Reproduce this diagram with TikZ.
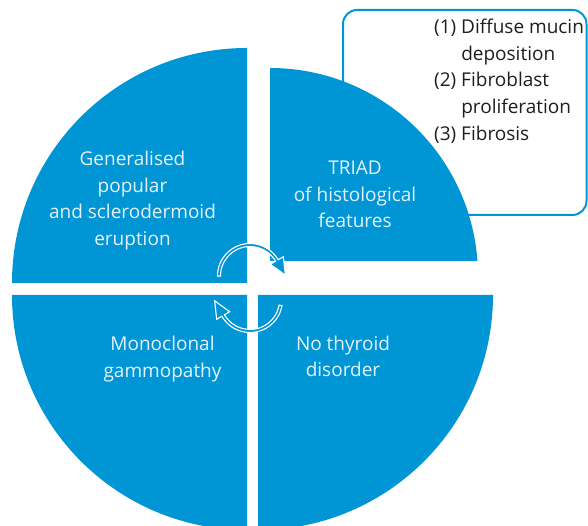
\documentclass[tikz,border=0pt]{standalone}
\usepackage{fontspec}
\setmainfont{Open Sans}
\definecolor{qblue}{RGB}{0,150,214}
\definecolor{qtext}{RGB}{228,243,250}
\definecolor{btext}{RGB}{30,30,30}
\begin{document}
\begin{tikzpicture}[x=1pt,y=1pt,
  quad/.style={fill=qblue},
  qlabel/.style={text=qtext,align=center,font=\fontsize{19}{26.7}\selectfont,inner sep=0pt},
  cyc/.style={fill=qblue,draw=white,line width=1.1pt,line join=miter}]
\useasboundingbox (0,0) rectangle (588,526);
\clip (0,0) rectangle (588,526);
% side box
\draw[qblue,line width=2pt,rounded corners=14pt] (343,311) rectangle (586.5,516);
% quadrants
\fill[quad] (247,243) -- (12,243) arc[start angle=180,end angle=90,radius=235] -- cycle;
\fill[quad] (270,265) -- (270,458) arc[start angle=90,end angle=4.14,radius=208] -- cycle;
\fill[quad] (247,231) -- (12,231) arc[start angle=180,end angle=270,radius=235] -- cycle;
\fill[quad] (258,231) -- (493,231) arc[start angle=0,end angle=-90,radius=235] -- cycle;
% labels
\node[qlabel] (gen) at (132.5,325.5) {Generalised\\popular\\and sclerodermoid\\eruption};
\node[qlabel] (triad) at (355,331.5) {TRIAD\\of histological\\features};
\node[qlabel] (mono) at (162.5,167) {Monoclonal\\gammopathy};
\node[qlabel] (thyr) at (343,169.5) {No thyroid\\disorder};
\node[anchor=north west,inner sep=0pt,text=btext,font=\fontsize{19}{26.7}\selectfont] (triadlist) at (434,511.4)
  {\begin{tabular}{@{}l@{ }l@{}}(1)&Diffuse mucin\\&deposition\\(2)&Fibroblast\\&proliferation\\(3)&Fibrosis\end{tabular}};
% cycle arrows
\coordinate (tipT) at (285.35,250.78);
\coordinate (tipB) at (214.65,225.22);
\draw[cyc] ([shift={(250,250)}]180:32.5) arc[start angle=180,end angle=30,radius=32.5]
  -- ([shift={(250,250)}]30:38.5) -- (tipT) -- ([shift={(250,250)}]30:23.5)
  -- ([shift={(250,250)}]30:29.5) arc[start angle=30,end angle=180,radius=29.5] -- cycle;
\draw[cyc] ([shift={(250,226)}]-10:32.5) arc[start angle=-10,end angle=-150,radius=32.5]
  -- ([shift={(250,226)}]-150:38.5) -- (tipB) -- ([shift={(250,226)}]-150:23.5)
  -- ([shift={(250,226)}]-150:29.5) arc[start angle=-150,end angle=-10,radius=29.5] -- cycle;
\end{tikzpicture}
\end{document}
